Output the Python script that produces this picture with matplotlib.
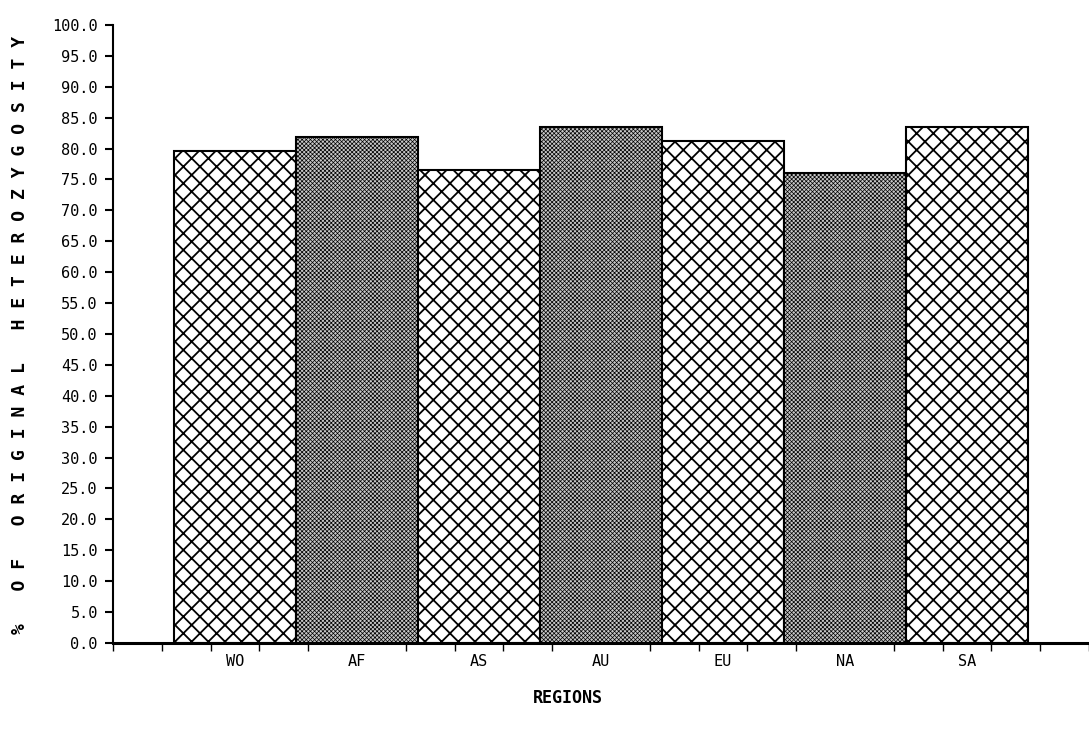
import matplotlib
matplotlib.use("Agg")
import matplotlib.pyplot as plt
import numpy as np

# regions and % of original heterozygosity
regions = ["WO", "AF", "AS", "AU", "EU", "NA", "SA"]
het = [79.6, 81.9, 76.5, 83.5, 81.2, 76.1, 83.5]
dark = [False, True, False, True, False, True, False]

ylabel = "% OF ORIGINAL HETEROZYGOSITY"

plt.rcParams["font.family"] = ["DejaVu Sans Mono"]

fig = plt.figure(figsize=(10.89, 7.3), dpi=100)
ax = fig.add_axes([0.1038, 0.1192, 0.8962, 0.8466])

pos = np.arange(1, len(regions) + 1)
for p, v, d in zip(pos, het, dark):
    if d:
        with plt.rc_context({"hatch.linewidth": 0.5}):
            ax.bar(p, v, width=1.0, color="#c8c8c8", edgecolor="black",
                   hatch="xxxxxxxx", linewidth=1.5)
    else:
        with plt.rc_context({"hatch.linewidth": 1.3}):
            ax.bar(p, v, width=1.0, color="white", edgecolor="black",
                   hatch="xx", linewidth=1.5)

ax.set_xlim(0, 8)
ax.set_ylim(0, 100)

ax.spines["top"].set_visible(False)
ax.spines["right"].set_visible(False)
ax.spines["left"].set_linewidth(1.5)
ax.spines["bottom"].set_linewidth(2.2)

ax.set_yticks(np.arange(0, 101, 5))
ax.set_yticklabels(["%.1f" % t for t in np.arange(0, 101, 5)], fontsize=11)
ax.tick_params(axis="y", direction="out", length=6, width=1.5, pad=5)

# minor ticks along the base line, labels at the bar centres
ax.set_xticks(np.arange(0, 8.01, 0.4), minor=True)
ax.set_xticks(pos)
ax.set_xticklabels(regions, fontsize=11)
ax.tick_params(axis="x", which="major", length=0, pad=8)
ax.tick_params(axis="x", which="minor", direction="out", length=6, width=1)

ax.set_xlabel("REGIONS", fontsize=12, fontweight="bold")
ax.xaxis.set_label_coords(0.466, -0.075)
spaced = "   ".join(" ".join(w) for w in ylabel.split())
fig.text(0.018, 0.541, spaced, rotation=90, ha="center", va="center",
         fontsize=13, fontweight="bold")

fig.savefig("out.png", dpi=100)
